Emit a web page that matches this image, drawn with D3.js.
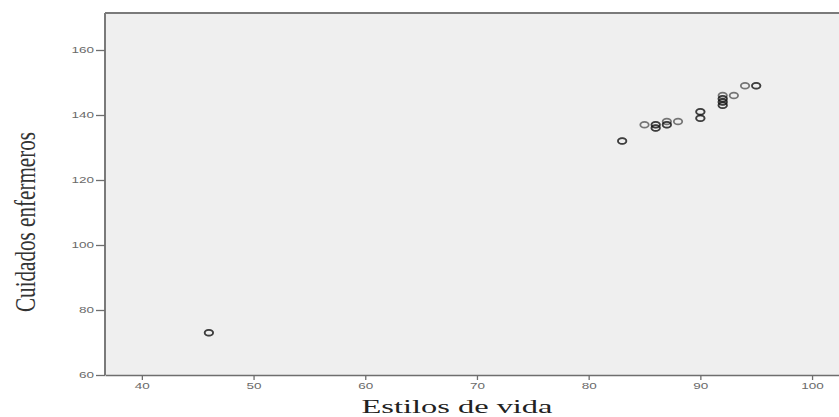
<!DOCTYPE html>
<html>
<head>
<meta charset="utf-8">
<script src="https://cdn.jsdelivr.net/npm/d3@7"></script>
<style>
  body { margin: 0; background: #fff; }
  svg { display: block; }
</style>
</head>
<body>
<svg id="chart" width="839" height="417"></svg>
<script>
// values (x = Estilos de vida, y = Cuidados enfermeros)
const estilos = [46, 46, 83, 83, 85, 86, 86, 86, 86, 87, 87, 87, 88, 90, 90, 90, 90, 92, 92, 92, 92, 92, 92, 92, 93, 94, 95, 95];
const cuidados = [73, 73, 132, 132, 137, 137, 137, 136, 136, 138, 137, 137, 138, 141, 141, 139, 139, 146, 145, 145, 144, 144, 143, 143, 146, 149, 149, 149];
const xTicks = [40, 50, 60, 70, 80, 90, 100];
const yTicks = [60, 80, 100, 120, 140, 160];

let svg = d3.select("#chart");

let dims = { top: 13, left: 105, width: 740, height: 362 }; //plot area, runs past the right edge
let stretch = 1.5; // the picture is stretched sideways, so is its text

let xScale = d3.scaleLinear().domain([36.7, 36.7 + 740 / 11.17]).range([0, dims.width]);
let yScale = d3.scaleLinear().domain([60, 60 + 362 / 3.25]).range([dims.height, 0]);

let plot = svg.append("g").attr("transform", "translate(" + dims.left + "," + dims.top + ")");

plot.append("rect")
  .attr("width", dims.width)
  .attr("height", dims.height)
  .attr("fill", "#efefef");

// top and left borders of the frame
plot.append("line").attr("x1", 0).attr("x2", dims.width).attr("y1", 0).attr("y2", 0)
  .attr("stroke", "#7a7a7a").attr("stroke-width", 2);
plot.append("line").attr("x1", 0).attr("x2", 0).attr("y1", 0).attr("y2", dims.height)
  .attr("stroke", "#7a7a7a").attr("stroke-width", 2);

let xAxis = plot.append("g")
  .attr("transform", "translate(0," + dims.height + ")")
  .call(d3.axisBottom(xScale).tickValues(xTicks).tickSize(5).tickPadding(3).tickSizeOuter(0));
xAxis.select(".domain").attr("stroke", "#6e6e6e").attr("stroke-width", 1.6);
xAxis.selectAll(".tick line").attr("stroke", "#6e6e6e").attr("stroke-width", 1.3);
xAxis.selectAll(".tick text")
  .attr("font-family", "Liberation Sans, Arial, sans-serif")
  .attr("font-size", 9)
  .attr("fill", "#6a6a6a")
  .attr("transform", "scale(" + stretch + ",1)");

let yAxis = plot.append("g")
  .call(d3.axisLeft(yScale).tickValues(yTicks).tickSize(9).tickPadding(2).tickSizeOuter(0));
yAxis.select(".domain").remove();
yAxis.selectAll(".tick line").attr("stroke", "#6e6e6e").attr("stroke-width", 1.3);
yAxis.selectAll(".tick text")
  .attr("font-family", "Liberation Sans, Arial, sans-serif")
  .attr("font-size", 9)
  .attr("fill", "#6a6a6a")
  .attr("x", -11 / stretch)
  .attr("transform", "scale(" + stretch + ",1)");

// open markers, stacked points come out darker
plot.selectAll(".pt")
  .data(estilos.map((d, i) => ({ x: d, y: cuidados[i] })))
  .enter()
  .append("ellipse")
  .attr("class", "pt")
  .attr("cx", (d) => xScale(d.x))
  .attr("cy", (d) => yScale(d.y))
  .attr("rx", 4.2)
  .attr("ry", 2.9)
  .attr("fill", "none")
  .attr("stroke", "#111")
  .attr("stroke-opacity", 0.55)
  .attr("stroke-width", 1.8);

svg.append("text")
  .text("Estilos de vida")
  .attr("x", 457)
  .attr("y", 413)
  .attr("text-anchor", "middle")
  .attr("font-family", "Liberation Serif, Times New Roman, serif")
  .attr("font-size", 18)
  .attr("fill", "#222")
  .attr("textLength", 191)
  .attr("lengthAdjust", "spacingAndGlyphs");

svg.append("g")
  .attr("transform", "translate(35,222) scale(1.55,1) rotate(-90)")
  .append("text")
  .text("Cuidados enfermeros")
  .attr("text-anchor", "middle")
  .attr("font-family", "Liberation Serif, Times New Roman, serif")
  .attr("font-size", 19)
  .attr("fill", "#333")
  .attr("textLength", 180)
  .attr("lengthAdjust", "spacingAndGlyphs");
</script>
</body>
</html>
